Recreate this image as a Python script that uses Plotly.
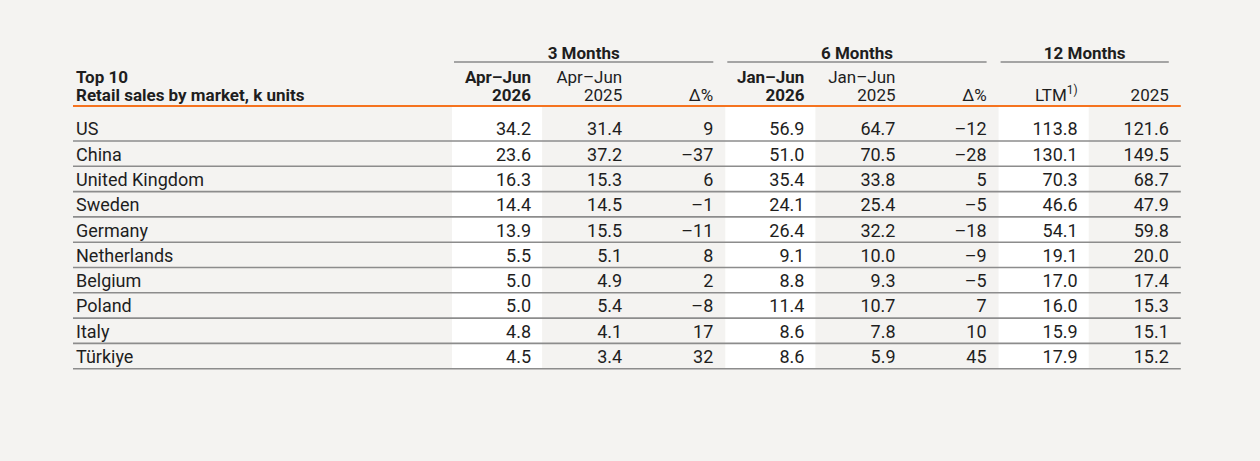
import plotly.graph_objects as go

# Data ---------------------------------------------------------------------------------------------
markets = ["US", "China", "United Kingdom", "Sweden", "Germany",
           "Netherlands", "Belgium", "Poland", "Italy", "Türkiye"]

q2_2026 = [34.2, 23.6, 16.3, 14.4, 13.9, 5.5, 5.0, 5.0, 4.8, 4.5]
q2_2025 = [31.4, 37.2, 15.3, 14.5, 15.5, 5.1, 4.9, 5.4, 4.1, 3.4]
q2_chg = [9, -37, 6, -1, -11, 8, 2, -8, 17, 32]

h1_2026 = [56.9, 51.0, 35.4, 24.1, 26.4, 9.1, 8.8, 11.4, 8.6, 8.6]
h1_2025 = [64.7, 70.5, 33.8, 25.4, 32.2, 10.0, 9.3, 10.7, 7.8, 5.9]
h1_chg = [-12, -28, 5, -5, -18, -9, -5, 7, 10, 45]

ltm = [113.8, 130.1, 70.3, 46.6, 54.1, 19.1, 17.0, 16.0, 15.9, 17.9]
fy_2025 = [121.6, 149.5, 68.7, 47.9, 59.8, 20.0, 17.4, 15.3, 15.1, 15.2]

groups = ["3 Months", "6 Months", "12 Months"]
group_cols = [(0, 2), (3, 5), (6, 7)]
head_line1 = ["Apr–Jun", "Apr–Jun", "", "Jan–Jun", "Jan–Jun", "", "", ""]
head_line2 = ["2026", "2025", "Δ%", "2026", "2025", "Δ%", "LTM<sup>1)</sup>", "2025"]
bold_cols = [0, 3]
white_cols = [0, 3, 6]
title_lines = ["Top 10", "Retail sales by market, k units"]
# ---------------------------------------------------------------------------------------------------

columns = [q2_2026, q2_2025, q2_chg, h1_2026, h1_2025, h1_chg, ltm, fy_2025]
is_pct = [False, False, True, False, False, True, False, False]


def fmt(v, pct):
    s = f"{v:d}" if pct else f"{v:.1f}"
    return s.replace("-", "–")


# Table geometry (pixel coords on a 1260x461 canvas)
W, H = 1260, 461
TABLE_L, COL0_R, COL_W, PAD = 73, 452, 91.1, 12
ORANGE_Y, FIRST_LINE, ROW_H = 106, 141, 25.3
Y_GROUP, Y_H1, Y_H2 = 54.5, 79, 96.5
TEXT_DY = 2.5  # plotly sets "middle" text slightly high

BG = "#f4f3f1"
TXT = "#1e1e1e"
FONT = "Roboto"
BODY = 18
HEAD = 17

col_x0 = [COL0_R + i * COL_W for i in range(len(columns))]
col_txt = [x + COL_W - PAD for x in col_x0]
row_y = [FIRST_LINE - ROW_H / 2 + TEXT_DY + i * ROW_H for i in range(len(markets))]
row_lines = [FIRST_LINE + i * ROW_H for i in range(len(markets))]
table_r = col_x0[-1] + COL_W

fig = go.Figure()

# market names
fig.add_trace(go.Scatter(
    x=[TABLE_L + 3] * len(markets), y=row_y, text=markets, mode="text",
    textposition="middle right", textfont=dict(family=FONT, size=BODY, color=TXT),
    hoverinfo="skip", showlegend=False))

# values
for ci, vals in enumerate(columns):
    fig.add_trace(go.Scatter(
        x=[col_txt[ci]] * len(vals), y=row_y, text=[fmt(v, is_pct[ci]) for v in vals],
        mode="text", textposition="middle left",
        textfont=dict(family=FONT, size=BODY, color=TXT),
        hoverinfo="skip", showlegend=False))

# column headers (skip empty first lines)
for ci in range(len(columns)):
    weight = "bold" if ci in bold_cols else "normal"
    xs, ys, ts = [], [], []
    for y, t in ((Y_H1, head_line1[ci]), (Y_H2, head_line2[ci])):
        if t:
            xs.append(col_txt[ci])
            ys.append(y)
            ts.append(t)
    fig.add_trace(go.Scatter(
        x=xs, y=ys, text=ts, mode="text", textposition="middle left",
        textfont=dict(family=FONT, size=HEAD, color=TXT, weight=weight),
        hoverinfo="skip", showlegend=False))

# title in first column
fig.add_trace(go.Scatter(
    x=[TABLE_L + 3] * 2, y=[Y_H1, Y_H2], text=title_lines, mode="text",
    textposition="middle right", textfont=dict(family=FONT, size=HEAD, color=TXT, weight="bold"),
    hoverinfo="skip", showlegend=False))

shapes = []
# group headers with rule underneath
for g, (a, b) in zip(groups, group_cols):
    x0, x1 = col_x0[a] + 2, col_txt[b]
    fig.add_trace(go.Scatter(
        x=[(x0 + x1) / 2], y=[Y_GROUP], text=[g], mode="text", textposition="middle center",
        textfont=dict(family=FONT, size=HEAD, color=TXT, weight="bold"),
        hoverinfo="skip", showlegend=False))
    shapes.append(dict(type="line", xref="x", yref="y", x0=x0, x1=x1, y0=62, y1=62,
                       line=dict(color="#8a8a8a", width=1.5)))

# white highlight columns
for ci in white_cols:
    shapes.append(dict(type="rect", xref="x", yref="y", x0=col_x0[ci], x1=col_x0[ci] + COL_W - 1,
                       y0=ORANGE_Y, y1=row_lines[-1], fillcolor="white", line_width=0, layer="below"))

# row rules
for y in row_lines:
    shapes.append(dict(type="line", xref="x", yref="y", x0=TABLE_L, x1=table_r, y0=y, y1=y,
                       line=dict(color="#8c8c8c", width=1.6)))

# orange header rule
shapes.append(dict(type="line", xref="x", yref="y", x0=TABLE_L, x1=table_r, y0=ORANGE_Y, y1=ORANGE_Y,
                   line=dict(color="#f5731f", width=2)))

fig.update_layout(
    width=W, height=H,
    margin=dict(l=0, r=0, t=0, b=0),
    paper_bgcolor=BG, plot_bgcolor=BG,
    shapes=shapes,
    xaxis=dict(range=[0, W], visible=False, fixedrange=True),
    yaxis=dict(range=[H, 0], visible=False, fixedrange=True),
)

fig.write_html("out.html", config={"displayModeBar": False},
               post_script="document.body.style.margin='0';document.body.style.background='%s';" % BG)
